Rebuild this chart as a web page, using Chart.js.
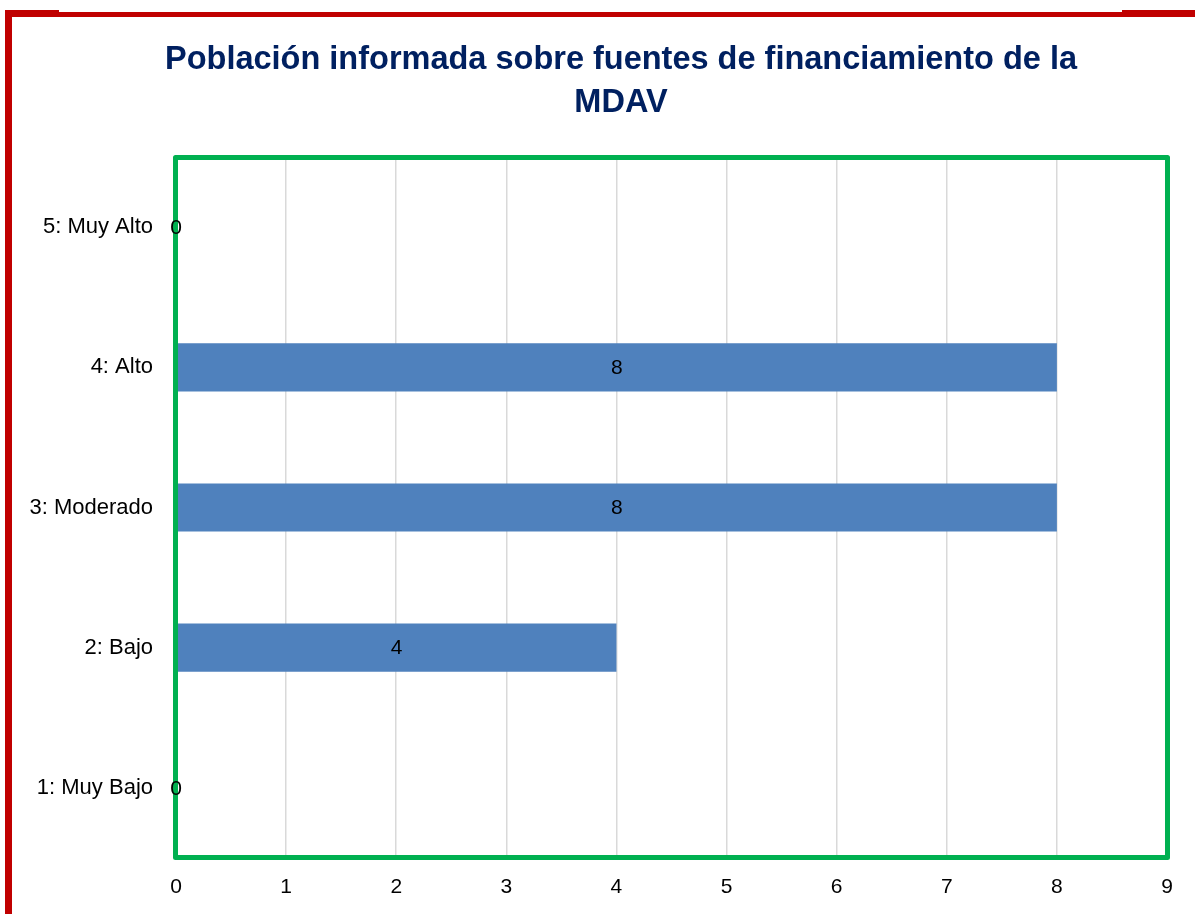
<!DOCTYPE html>
<html>
<head>
<meta charset="utf-8">
<script src="https://cdn.jsdelivr.net/npm/chart.js@4"></script>
<style>
    html, body { margin: 0; padding: 0; background: #ffffff; }
    canvas { display: block; }
</style>
</head>
<body>
<canvas id="chart" width="1195" height="914"></canvas>
<script>
const titleLines = ["Población informada sobre fuentes de financiamiento de la", "MDAV"];
const categories = ["5: Muy Alto", "4: Alto", "3: Moderado", "2: Bajo", "1: Muy Bajo"];
const counts = [0, 8, 8, 4, 0];
const xTicks = [0, 1, 2, 3, 4, 5, 6, 7, 8, 9];

const colors = {
    bar: "#4f81bd",
    title: "#002060",
    text: "#000000",
    grid: "#d9d9d9",
    green: "#00b050",
    red: "#c00000",
};

const fontFamily = "'Liberation Sans', Arial, sans-serif";

// red frame of the slide, title, and green frame round the plot
const framePlugin = {
    id: "frames",
    beforeDraw(chart) {
	const ctx = chart.ctx;
	ctx.save();
	ctx.fillStyle = colors.red;
	ctx.fillRect(5, 10, 7, chart.height - 10);
	ctx.fillRect(5, 12, 1190, 5);
	ctx.fillRect(5, 10, 54, 7);
	ctx.fillRect(1122, 10, 73, 7);

	ctx.font = "bold 32.5px " + fontFamily;
	ctx.fillStyle = colors.title;
	ctx.textAlign = "center";
	ctx.textBaseline = "middle";
	titleLines.forEach((line, i) => ctx.fillText(line, 621, 60 + i * 43));
	ctx.restore();
    },
    afterDraw(chart) {
	const a = chart.chartArea;
	const ctx = chart.ctx;
	ctx.save();
	ctx.strokeStyle = colors.green;
	ctx.lineWidth = 5;
	ctx.lineJoin = "round";
	ctx.strokeRect(a.left - 0.5, a.top + 0.5, a.right - a.left + 1, a.bottom - a.top - 1);
	ctx.restore();
    }
};

// value labels in the middle of each bar, drawn over the frame
const valueLabels = {
    id: "valueLabels",
    afterDraw(chart) {
	const ctx = chart.ctx;
	const meta = chart.getDatasetMeta(0);
	ctx.save();
	ctx.font = "21px " + fontFamily;
	ctx.fillStyle = colors.text;
	ctx.textAlign = "center";
	ctx.textBaseline = "middle";
	meta.data.forEach((bar, i) => {
	    const x = (bar.x + bar.base) / 2;
	    ctx.fillText(String(counts[i]), x, bar.y + 1);
	});
	ctx.restore();
    }
};

new Chart(document.getElementById("chart"), {
    type: "bar",
    data: {
	labels: categories,
	datasets: [{
	    data: counts,
	    backgroundColor: colors.bar,
	    borderWidth: 0,
	    categoryPercentage: 0.4,
	    barPercentage: 0.86,
	}]
    },
    options: {
	indexAxis: "y",
	responsive: false,
	animation: false,
	devicePixelRatio: 1,
	layout: { padding: { left: 10, right: 28, top: 157, bottom: 0 } },
	plugins: {
	    legend: { display: false },
	    tooltip: { enabled: false },
	    title: { display: false },
	},
	scales: {
	    x: {
		min: 0,
		max: 9,
		afterBuildTicks: (scale) => { scale.ticks = xTicks.map(v => ({ value: v })); },
		afterFit: (scale) => { scale.height = 56; },
		grid: { color: colors.grid, lineWidth: 1.5, drawTicks: false },
		border: { display: false },
		ticks: {
		    color: colors.text,
		    padding: 17,
		    maxRotation: 0,
		    font: { family: fontFamily, size: 21 },
		},
	    },
	    y: {
		afterFit: (scale) => { scale.width = 166; },
		grid: { display: false, drawTicks: false },
		border: { display: false },
		ticks: {
		    color: colors.text,
		    padding: 23,
		    font: { family: fontFamily, size: 22 },
		},
	    },
	},
    },
    plugins: [framePlugin, valueLabels],
});
</script>
</body>
</html>
